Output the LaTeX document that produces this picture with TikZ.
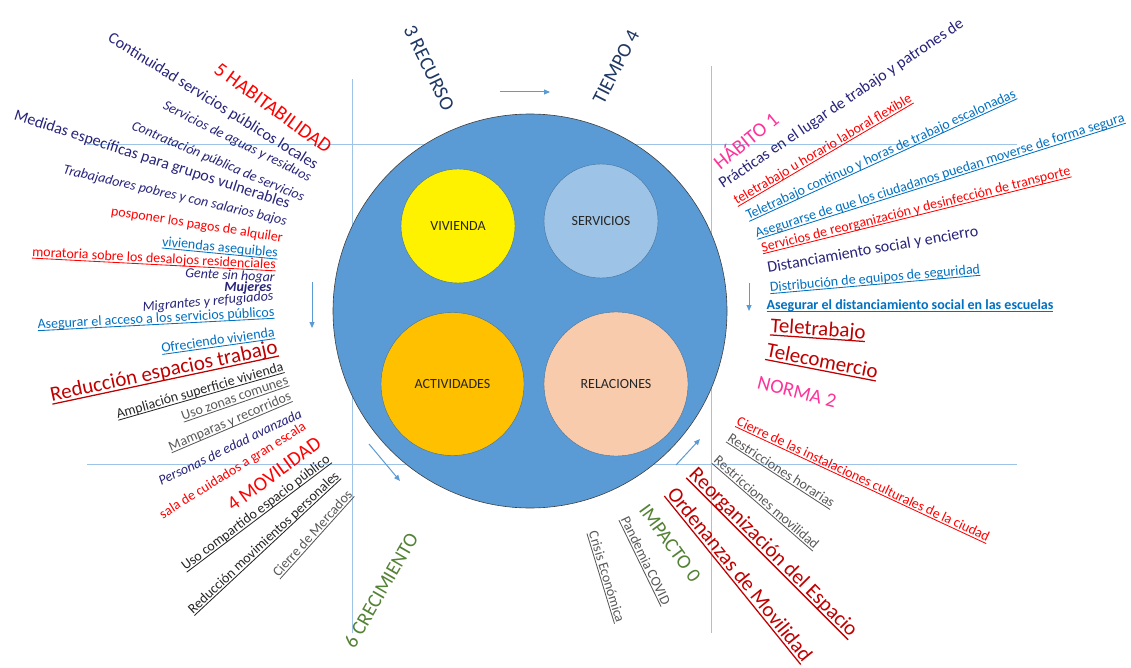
\documentclass[tikz,border=0pt]{standalone}
\usepackage{fontspec}
\setmainfont{Carlito}
\usepackage{tikz}
\usetikzlibrary{arrows.meta}

\definecolor{navytxt}{RGB}{40,36,122}
\definecolor{deepblue}{RGB}{32,56,100}
\definecolor{redtxt}{RGB}{255,0,0}
\definecolor{darkred}{RGB}{192,0,0}
\definecolor{bluetxt}{RGB}{0,112,192}
\definecolor{graytxt}{RGB}{89,89,89}
\definecolor{blacktxt}{RGB}{38,38,38}
\definecolor{greentxt}{RGB}{84,130,53}
\definecolor{pinktxt}{RGB}{255,51,153}
\definecolor{ringblue}{RGB}{91,155,213}
\definecolor{lineblue}{RGB}{157,195,230}
\definecolor{edgeblue}{RGB}{65,113,156}
\definecolor{servblue}{RGB}{157,195,230}
\definecolor{actorange}{RGB}{255,192,0}
\definecolor{relpeach}{RGB}{248,203,173}

\newcommand{\undr}[1]{\setbox0=\hbox{#1}\rlap{\rule[-0.16em]{\wd0}{0.06em}}\box0}

\tikzset{
  txt/.style={inner sep=0pt, anchor=center},
  sm/.style={txt, font=\fontsize{14}{16}\selectfont},
  md/.style={txt, font=\fontsize{16}{18}\selectfont},
  lg/.style={txt, font=\fontsize{20}{22}\selectfont},
  xl/.style={txt, font=\fontsize{21}{23}\selectfont},
  guide/.style={draw=lineblue, line width=0.9pt},
  arr/.style={draw=ringblue, line width=1pt, -{Triangle[length=6pt,width=5pt]}},
  part/.style={circle, draw=edgeblue, line width=0.4pt, text=blacktxt,
               font=\fontsize{14}{16}\selectfont}
}

\begin{document}
\begin{tikzpicture}[x=1pt, y=-1pt]

        \useasboundingbox (0,0) rectangle (1131,668);
        \fill [white] (0,0) rectangle (1131,668);
        \clip (0,0) rectangle (1131,668);

        %Guides
        \coordinate (gtl) at (87,144);   \coordinate (gtr) at (1017,144);
        \coordinate (gbl) at (87,464);   \coordinate (gbr) at (1017,464);
        \coordinate (gvl1) at (352,79);  \coordinate (gvl2) at (352,633);
        \coordinate (gvr1) at (711,66);  \coordinate (gvr2) at (711,633);
        \draw [guide] (gtl) -- (gtr);
        \draw [guide] (gbl) -- (gbr);
        \draw [guide] (gvl1) -- (gvl2);
        \draw [guide] (gvr1) -- (gvr2);

        %Circles
        \node [circle, draw=black!75, line width=0.6pt, fill=ringblue,
               minimum size=394pt] (city) at (530,311) {};
        \node [part, fill=yellow,    minimum size=114pt] (viv) at (458,226)   {VIVIENDA};
        \node [part, fill=servblue,  minimum size=114pt] (ser) at (601,221)   {SERVICIOS};
        \node [part, fill=actorange, minimum size=143pt] (act) at (452.5,384) {ACTIVIDADES};
        \node [part, fill=relpeach,  minimum size=144pt] (rel) at (616,384)   {RELACIONES};

        %Arrows
        \coordinate (a1s) at (500,92);  \coordinate (a1e) at (550,92);
        \coordinate (a2s) at (312,282); \coordinate (a2e) at (312,328);
        \coordinate (a3s) at (749,283); \coordinate (a3e) at (749,311);
        \coordinate (a4s) at (369,444); \coordinate (a4e) at (400,481);
        \coordinate (a5s) at (676,465); \coordinate (a5e) at (700,439);
        \draw [arr] (a1s) -- (a1e);
        \draw [arr] (a2s) -- (a2e);
        \draw [arr] (a3s) -- (a3e);
        \draw [arr] (a4s) -- (a4e);
        \draw [arr] (a5s) -- (a5e);

        %Recurso / Tiempo
        \node [lg, text=deepblue, rotate=-64] (recu) at (429,68) {3 RECURSO};
        \node [lg, text=deepblue, rotate=63]  (tiem) at (616,67) {TIEMPO 4};

        %Habitabilidad
        \node [lg, text=redtxt,  rotate=-36] (hab)   at (273,108) {5 HABITABILIDAD};
        \node [md, text=navytxt, rotate=-32] (cont)  at (213,102) {Continuidad servicios públicos locales};
        \node [sm, text=navytxt, rotate=-26.5] (agua) at (237,142) {\itshape Servicios de aguas y residuos};
        \node [sm, text=navytxt, rotate=-23] (contr) at (218,162) {\itshape Contratación pública de servicios};
        \node [md, text=navytxt, rotate=-18] (medi)  at (152,160) {Medidas específicas para grupos vulnerables};
        \node [sm, text=navytxt, rotate=-13] (trab)  at (175,196) {\itshape Trabajadores pobres y con salarios bajos};
        \node [sm, text=redtxt,  rotate=-9]  (posp)  at (197,225) {posponer los pagos de alquiler};
        \node [sm, text=bluetxt, rotate=-5.5] (vive) at (220,248) {\undr{viviendas asequibles}};
        \node [sm, text=redtxt,  rotate=-3]  (mora)  at (154,259) {\undr{moratoria sobre los desalojos residenciales}};
        \node [sm, text=navytxt, rotate=-3]  (gente) at (230,276) {\itshape Gente sin hogar};
        \node [sm, text=navytxt]             (muj)   at (248,288) {\bfseries\itshape Mujeres};
        \node [sm, text=navytxt, rotate=5]   (migr)  at (208,302) {\itshape Migrantes y refugiados};
        \node [sm, text=bluetxt, rotate=3]   (aseg)  at (156,319) {\undr{Asegurar el acceso a los servicios públicos}};
        \node [sm, text=bluetxt, rotate=8]   (ofre)  at (218,341) {\undr{Ofreciendo vivienda}};

        %Trabajo
        \node [xl, text=darkred,  rotate=12] (redu)   at (164,372) {\undr{Reducción espacios trabajo}};
        \node [sm, text=blacktxt, rotate=16] (ampl)   at (200,391) {\undr{Ampliación superficie vivienda}};
        \node [sm, text=graytxt,  rotate=19] (zonas)  at (235,399) {\undr{Uso zonas comunes}};
        \node [sm, text=graytxt,  rotate=23] (mamp)   at (230,422) {\undr{Mamparas y recorridos}};
        \node [sm, text=navytxt,  rotate=26] (pers)   at (230,447) {\itshape Personas de edad avanzada};
        \node [sm, text=redtxt,   rotate=32] (sala)   at (233,471) {sala de cuidados a gran escala};

        %Movilidad
        \node [lg, text=redtxt,   rotate=36] (movi)   at (274,474) {4 MOVILIDAD};
        \node [sm, text=blacktxt, rotate=37] (usoc)   at (256,513) {\undr{Uso compartido espacio público}};
        \node [sm, text=blacktxt, rotate=43] (redm)   at (264,543) {\undr{Reducción movimientos personales}};
        \node [sm, text=graytxt,  rotate=48] (merc)   at (313,534) {\undr{Cierre de Mercados}};
        \node [lg, text=greentxt, rotate=60] (crec)   at (381,590) {6 CRECIMIENTO};

        %Habito
        \node [lg, text=pinktxt, rotate=39] (habi) at (745,140) {HÁBITO 1};
        \node [md, text=navytxt, rotate=34, anchor=base west] (prac) at (723,189)
              {Prácticas en el lugar de trabajo y patrones de};
        \node [sm, text=redtxt,  rotate=30.5] (tele1) at (823,150) {\undr{teletrabajo u horario laboral flexible}};
        \node [sm, text=bluetxt, rotate=24.6] (tele2) at (881,155) {\undr{Teletrabajo continuo y horas de trabajo escalonadas}};
        \node [sm, text=bluetxt, rotate=17.5] (aseg2) at (940,176) {\undr{Asegurarse de que los ciudadanos puedan moverse de forma segura}};
        \node [sm, text=redtxt,  rotate=14]   (serv)  at (916,210) {\undr{Servicios de reorganización y desinfección de transporte}};
        \node [md, text=navytxt, rotate=10]   (dist)  at (873,250) {Distanciamiento social y encierro};
        \node [sm, text=bluetxt, rotate=5]    (equi)  at (875,279) {\undr{Distribución de equipos de seguridad}};
        \node [sm, text=bluetxt]              (escu)  at (910,306) {\bfseries\undr{Asegurar el distanciamiento social en las escuelas}};

        %Norma
        \node [xl, text=darkred, rotate=-4]  (telt) at (818,330) {\undr{Teletrabajo}};
        \node [xl, text=darkred, rotate=-11] (telc) at (822,362) {\undr{Telecomercio}};
        \node [lg, text=pinktxt, rotate=-14] (norm) at (797,392) {NORMA 2};

        %Espacio
        \node [sm, text=redtxt,  rotate=-25] (cier) at (863,480) {\undr{Cierre de las instalaciones culturales de la ciudad}};
        \node [sm, text=graytxt, rotate=-33] (rhor) at (781,471) {\undr{Restricciones horarias}};
        \node [sm, text=graytxt, rotate=-41] (rmov) at (766,503) {\undr{Restricciones movilidad}};
        \node [xl, text=darkred, rotate=-45] (reor) at (773,553) {\undr{Reorganización del Espacio}};
        \node [xl, text=darkred, rotate=-51] (orde) at (739,575) {\undr{Ordenanzas de Movilidad}};

        %Impacto
        \node [lg, text=greentxt, rotate=-54] (impa) at (670,543) {IMPACTO 0};
        \node [sm, text=graytxt,  rotate=-64] (pand) at (645,561) {\undr{Pandemia COVID}};
        \node [sm, text=graytxt,  rotate=-73] (cris) at (606,577) {\undr{Crisis Económica}};

\end{tikzpicture}
\end{document}
